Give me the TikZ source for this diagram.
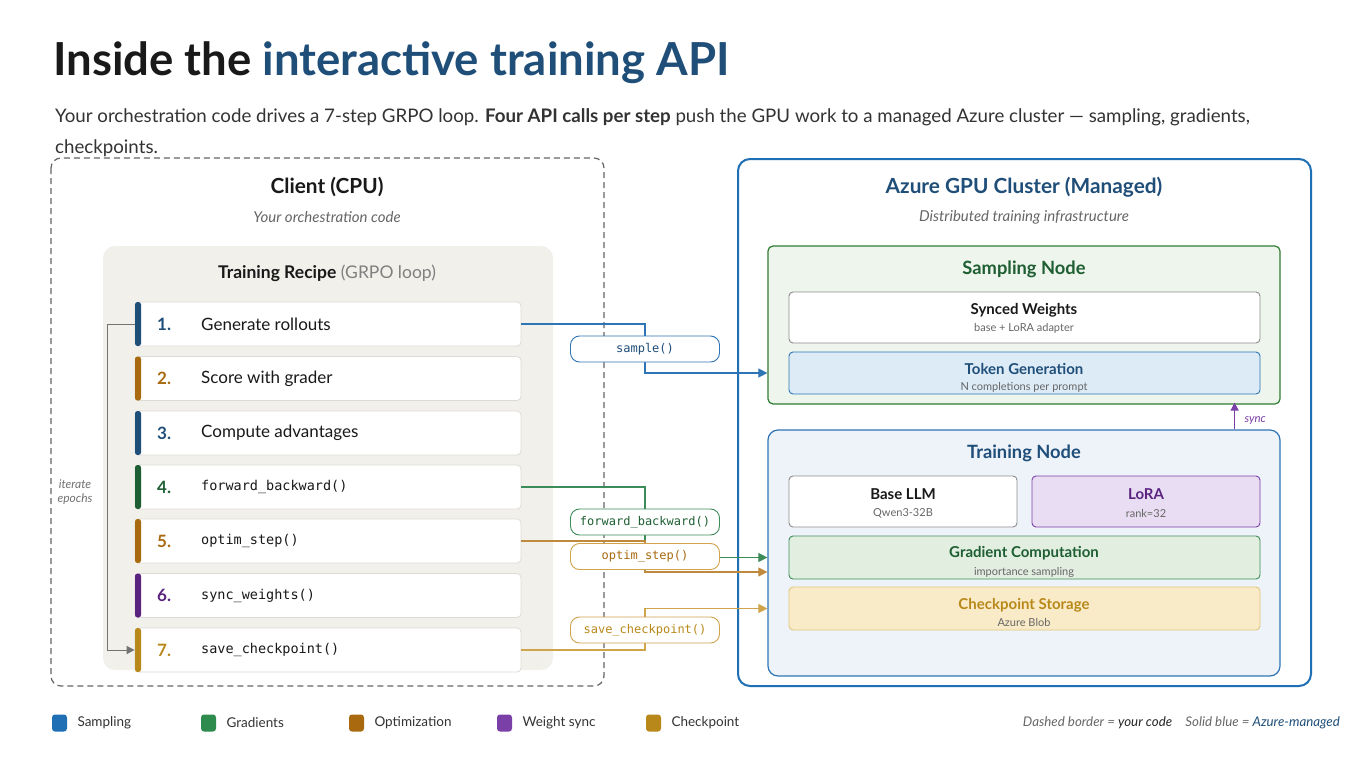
\documentclass[tikz,border=0pt]{standalone}
\usepackage{fontspec}
\setmainfont{Lato}
\newfontfamily\monof{DejaVu Sans Mono}
\usetikzlibrary{arrows.meta}
\definecolor{navy}{HTML}{1F4E79}
\definecolor{azblue}{HTML}{1F6FB5}
\definecolor{lineblue}{HTML}{2E75B6}
\definecolor{greenD}{HTML}{1E5E32}
\definecolor{greenB}{HTML}{2E7D32}
\definecolor{greenL}{HTML}{3C8C5A}
\definecolor{legGreen}{HTML}{2E8B4E}
\definecolor{brownC}{HTML}{A8690F}
\definecolor{orangeL}{HTML}{C08A3E}
\definecolor{purpleD}{HTML}{5B2380}
\definecolor{purpleL}{HTML}{7B3FA8}
\definecolor{goldC}{HTML}{B8891A}
\definecolor{goldL}{HTML}{CFA44A}
\definecolor{txt}{HTML}{333333}
\definecolor{sub}{HTML}{666666}
\definecolor{recipefill}{HTML}{F1F0EB}
\definecolor{stepborder}{HTML}{DDDBD5}
\definecolor{sampfill}{HTML}{EEF5EC}
\definecolor{trainfill}{HTML}{EEF3FA}
\definecolor{tokfill}{HTML}{DDEBF7}
\definecolor{lorafill}{HTML}{E8DDF2}
\definecolor{gradfill}{HTML}{E2EFE0}
\definecolor{ckfill}{HTML}{FAEBC8}
\definecolor{ckborder}{HTML}{E0C77E}
\begin{document}
\begin{tikzpicture}[x=1pt,y=-1pt,
  stepbox/.style={draw=stepborder, fill=white, rounded corners=4, line width=0.8, minimum width=386, minimum height=44, inner sep=0},
  lab/.style={draw, fill=white, rounded corners=9, line width=0.9, minimum width=149, minimum height=26, inner sep=0, font=\monof\fontsize{12}{14}\selectfont},
  conn/.style={line width=1.1, -{Triangle[length=9,width=9]}},
  inner/.style={rounded corners=4, line width=0.9, inner sep=0},
  subt/.style={text=sub, font=\fontsize{11}{13}\selectfont},
  legsq/.style={rounded corners=3, inner sep=0, minimum width=15, minimum height=17},
  legtx/.style={anchor=west, text=txt, font=\fontsize{13.5}{15}\selectfont}
]
\useasboundingbox (0,0) rectangle (1366,768);
\fill[white] (0,0) rectangle (1366,768);

% title
\node[anchor=base west, inner sep=0, font=\bfseries\fontsize{45.5}{50}\selectfont, text=black!90] (title) at (53,76) {Inside the \textcolor{navy}{interactive training API}};
\node[anchor=base west, inner sep=0, text=txt, font=\fontsize{18.7}{24}\selectfont] (subtitle) at (55,122) {Your orchestration code drives a 7-step GRPO loop. \textbf{Four API calls per step} push the GPU work to a managed Azure cluster — sampling, gradients,};
\node[anchor=base west, inner sep=0, text=txt, font=\fontsize{18.7}{24}\selectfont] (subtitle2) at (55,153) {checkpoints.};

% client box
\draw[sub, dashed, dash pattern=on 6 off 4, line width=1.2, rounded corners=10] (51,158) rectangle (604,686);
\node[font=\bfseries\fontsize{20.8}{24}\selectfont, text=black!90] (client) at (327,187) {Client (CPU)};
\node[font=\itshape\fontsize{15}{16}\selectfont, text=sub] (clientsub) at (327,217) {Your orchestration code};

% recipe
\fill[recipefill, rounded corners=12] (103,246) rectangle (553,670);
\node[font=\fontsize{17.5}{19}\selectfont, text=black!90] (recipe) at (327,273) {\textbf{Training Recipe} \textcolor{black!50}{(GRPO loop)}};

\foreach \n/\yy/\c/\t in {
  1/324/navy/{Generate rollouts},
  2/378.5/brownC/{Score with grader},
  3/433/navy/{Compute advantages},
  4/487/greenD/{\monof\fontsize{13.5}{18}\selectfont forward\_backward()},
  5/541/brownC/{\monof\fontsize{13.5}{18}\selectfont optim\_step()},
  6/595.5/purpleD/{\monof\fontsize{13.5}{18}\selectfont sync\_weights()},
  7/650/goldC/{\monof\fontsize{13.5}{18}\selectfont save\_checkpoint()}}{
  \node[stepbox] (s\n) at (328,\yy) {};
  \fill[\c, rounded corners=2.5] (135,\yy-22) rectangle (141,\yy+22);
  \node[anchor=west, inner sep=0, text=\c, font=\bfseries\fontsize{17}{19}\selectfont] (n\n) at (157,\yy) {\n.};
  \node[anchor=west, inner sep=0, text=black!90, font=\fontsize{17}{19}\selectfont] (t\n) at (201,\yy) {\t};
}

% loop arrow
\draw[black!55, line width=1, -{Triangle[length=8,width=8]}] (s1.west) -- ++(-27,0) |- (s7.west);
\node[align=center, text=black!55, font=\itshape\fontsize{12}{14}\selectfont] (iter) at (75,492) {iterate\\epochs};

% azure box
\draw[azblue, line width=2, rounded corners=12] (738,159) rectangle (1311,686);
\node[font=\bfseries\fontsize{20.8}{24}\selectfont, text=navy] (azure) at (1024,187) {Azure GPU Cluster (Managed)};
\node[font=\itshape\fontsize{15}{16}\selectfont, text=sub] (azsub) at (1024,217) {Distributed training infrastructure};

% sampling node
\node[draw=greenB, fill=sampfill, rounded corners=5, line width=1.2, minimum width=512, minimum height=158, inner sep=0] (sampling) at (1024,325) {};
\node[font=\bfseries\fontsize{18.3}{20}\selectfont, text=greenD] (samptitle) at (1024,269) {Sampling Node};
\node[inner, draw=black!45, fill=white, minimum width=471, minimum height=51] (synced) at (1024.5,317.5) {};
\node[font=\bfseries\fontsize{15}{16}\selectfont, text=black!90] at (1024,310) {Synced Weights};
\node[subt] at (1024,328) {base + LoRA adapter};
\node[inner, draw=lineblue, fill=tokfill, minimum width=471, minimum height=42] (tok) at (1024.5,373) {};
\node[font=\bfseries\fontsize{15}{16}\selectfont, text=navy] at (1024,369) {Token Generation};
\node[subt] at (1024,387) {N completions per prompt};

% training node
\node[draw=lineblue, fill=trainfill, rounded corners=10, line width=1.2, minimum width=512, minimum height=246, inner sep=0] (train) at (1024,553) {};
\node[font=\bfseries\fontsize{18.3}{20}\selectfont, text=navy] (traintitle) at (1024,453) {Training Node};
\node[inner, draw=black!45, fill=white, minimum width=228, minimum height=51] (base) at (903,501.5) {};
\node[font=\bfseries\fontsize{15}{16}\selectfont, text=black!90] at (903,494) {Base LLM};
\node[subt] at (903,513) {Qwen3-32B};
\node[inner, draw=purpleL, fill=lorafill, minimum width=228, minimum height=51] (lora) at (1146,501.5) {};
\node[font=\bfseries\fontsize{15}{16}\selectfont, text=purpleD] at (1146,494) {LoRA};
\node[subt] at (1146,513) {rank=32};
\node[inner, draw=greenL, fill=gradfill, minimum width=471, minimum height=43] (grad) at (1024.5,557.5) {};
\node[font=\bfseries\fontsize{15}{16}\selectfont, text=greenD] at (1024,553) {Gradient Computation};
\node[subt] at (1024,572) {importance sampling};
\node[inner, draw=ckborder, fill=ckfill, minimum width=471, minimum height=43] (ckpt) at (1024.5,608.5) {};
\node[font=\bfseries\fontsize{15}{16}\selectfont, text=goldC] at (1024,605) {Checkpoint Storage};
\node[subt] at (1024,622) {Azure Blob};

% sync arrow
\draw[purpleL, line width=1.4, -{Triangle[length=8,width=8]}] ([xshift=-46]train.north east) -- ([xshift=-46,yshift=2]sampling.south east);
\node[anchor=west, text=purpleL, font=\itshape\fontsize{11.5}{13}\selectfont] (synclab) at (1241,421) {sync};

% connectors
\coordinate (lsample) at (645,349);
\coordinate (lfb) at (645,522);
\coordinate (lopt) at (645,556.5);
\coordinate (lsave) at (645,630);
\draw[conn, lineblue] (s1.east) -- (s1.east -| lsample) |- (sampling.west |- tok);
\draw[conn, greenL] (s4.east) -- (s4.east -| lfb) |- (train.west |- grad);
\draw[conn, orangeL] (s5.east) -- (s5.east -| lopt) |- (train.west |- 0,572);
\draw[conn, goldL] (s7.east) -- (s7.east -| lsave) |- (train.west |- ckpt);
\node[lab, draw=lineblue, text=navy] (labsample) at (lsample) {sample()};
\node[lab, draw=greenL, text=greenD] (labfb) at (lfb) {forward\_backward()};
\node[lab, draw=goldL, text=brownC] (labopt) at (lopt) {optim\_step()};
\node[lab, draw=goldL, text=goldC] (labsave) at (lsave) {save\_checkpoint()};

% legend
\foreach \x/\c/\t in {52/azblue/Sampling, 201/legGreen/Gradients, 349/brownC/Optimization, 497/purpleL/Weight sync, 646/goldC/Checkpoint}{
  \node[legsq, fill=\c] (sq\x) at (\x+7.5,723) {};
  \node[legtx] (lt\x) at (\x+22,723) {\t};
}
\node[anchor=east, inner sep=0, text=sub, font=\itshape\fontsize{13.3}{14}\selectfont] (note) at (1340,723) {Dashed border = \textcolor{black!85}{your code}\quad Solid blue = \textcolor{navy}{Azure-managed}};
\end{tikzpicture}
\end{document}
